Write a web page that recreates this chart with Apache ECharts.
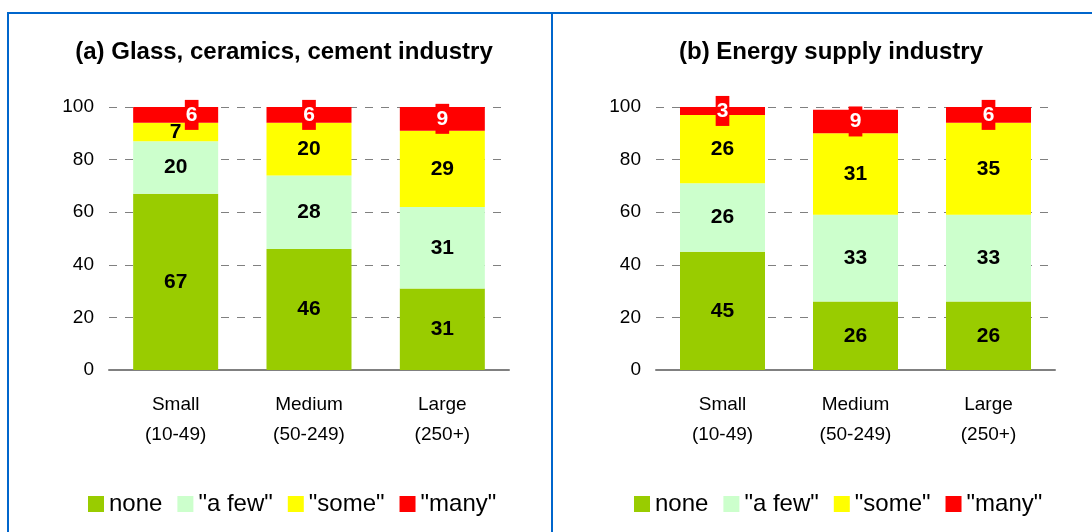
<!DOCTYPE html>
<html>
<head>
<meta charset="utf-8">
<script src="https://cdn.jsdelivr.net/npm/echarts@6/dist/echarts.min.js"></script>
<style>
  html, body { margin: 0; padding: 0; background: #fff; }
  #chart { width: 1092px; height: 532px; }
</style>
</head>
<body>
<div id="chart"></div>
<script>
const categories = ["Small\n(10-49)", "Medium\n(50-249)", "Large\n(250+)"];
const levels = ["none", "\"a few\"", "\"some\"", "\"many\""];
const yTicks = [0, 20, 40, 60, 80, 100];

// (a) glass, ceramics, cement
const glassNone = [67, 46, 31];
const glassFew = [20, 28, 31];
const glassSome = [7, 20, 29];
const glassMany = [6, 6, 9];

// (b) energy supply
const energyNone = [45, 26, 26];
const energyFew = [26, 33, 33];
const energySome = [26, 31, 35];
const energyMany = [3, 9, 6];

const colors = ["#99CC00", "#CCFFCC", "#FFFF00", "#FF0000"];
const font = "'Liberation Sans', Arial, sans-serif";

var chartDom = document.getElementById("chart");
var myChart = echarts.init(chartDom);

const makeSeries = (name, data, idx, stack, color) => {
  let isMany = color === "#FF0000";
  return {
    name: name,
    type: "bar",
    stack: stack,
    xAxisIndex: idx,
    yAxisIndex: idx,
    barWidth: 85,
    itemStyle: { color: color },
    emphasis: { disabled: true },
    label: {
      show: true,
      position: "inside",
      fontFamily: font,
      fontSize: 21,
      fontWeight: "bold",
      color: isMany ? "#fff" : "#000",
      backgroundColor: isMany ? "#FF0000" : "transparent",
      padding: isMany ? [5, 1, 4, 1] : 0,
    },
    data: data,
  };
};

// the "6" on the small glass bar sits off to the right
const glassManyData = glassMany.map((v, i) =>
  i === 0 ? { value: v, label: { offset: [16, 0] } } : v
);

const axisX = (idx) => ({
  type: "category",
  gridIndex: idx,
  data: categories,
  axisLine: { lineStyle: { color: "#808080", width: 2 } },
  axisTick: { length: 5, lineStyle: { color: "#808080" } },
  axisLabel: {
    fontFamily: font,
    fontSize: 19,
    lineHeight: 30,
    color: "#000",
    margin: 20,
  },
});

const axisY = (idx) => ({
  type: "value",
  gridIndex: idx,
  min: yTicks[0],
  max: yTicks[yTicks.length - 1],
  interval: yTicks[1] - yTicks[0],
  axisLine: { show: false },
  axisTick: { show: false },
  axisLabel: { fontFamily: font, fontSize: 19, color: "#000", margin: 15 },
  splitLine: {
    lineStyle: { color: "#808080", type: [8, 8], width: 1 },
  },
});

const legendBase = {
  data: levels,
  itemWidth: 16,
  itemHeight: 16,
  itemGap: 15,
  icon: "rect",
  top: 487,
  selectedMode: false,
  textStyle: { fontFamily: font, fontSize: 24, color: "#000" },
};

var option = {
  animation: false,
  color: colors,
  title: [
    {
      text: "(a) Glass, ceramics, cement industry",
      left: 279,
      top: 35,
      textAlign: "center",
      textStyle: { fontFamily: font, fontSize: 24, fontWeight: "bold", color: "#000" },
    },
    {
      text: "(b) Energy supply industry",
      left: 826,
      top: 35,
      textAlign: "center",
      textStyle: { fontFamily: font, fontSize: 24, fontWeight: "bold", color: "#000" },
    },
  ],
  legend: [
    Object.assign({}, legendBase, { left: 83 }),
    Object.assign({}, legendBase, { left: 629 }),
  ],
  grid: [
    { left: 109, top: 107, width: 400, height: 263 },
    { left: 656, top: 107, width: 399, height: 263 },
  ],
  xAxis: [axisX(0), axisX(1)],
  yAxis: [axisY(0), axisY(1)],
  series: [
    makeSeries(levels[0], glassNone, 0, "a", colors[0]),
    makeSeries(levels[1], glassFew, 0, "a", colors[1]),
    makeSeries(levels[2], glassSome, 0, "a", colors[2]),
    makeSeries(levels[3], glassManyData, 0, "a", colors[3]),
    makeSeries(levels[0], energyNone, 1, "b", colors[0]),
    makeSeries(levels[1], energyFew, 1, "b", colors[1]),
    makeSeries(levels[2], energySome, 1, "b", colors[2]),
    makeSeries(levels[3], energyMany, 1, "b", colors[3]),
  ],
  graphic: [
    { type: "rect", shape: { x: 7, y: 12, width: 1085, height: 2 }, style: { fill: "#0066CC" } },
    { type: "rect", shape: { x: 7, y: 12, width: 2, height: 520 }, style: { fill: "#0066CC" } },
    { type: "rect", shape: { x: 551, y: 12, width: 2, height: 520 }, style: { fill: "#0066CC" } },
  ],
};

option && myChart.setOption(option);
</script>
</body>
</html>
